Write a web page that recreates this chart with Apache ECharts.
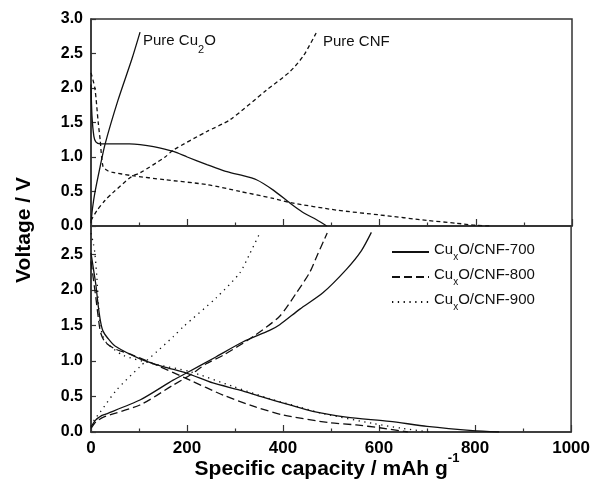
<!DOCTYPE html>
<html><head><meta charset="utf-8">
<script src="https://cdn.jsdelivr.net/npm/echarts@6/dist/echarts.min.js"></script>
<style>html,body{margin:0;padding:0;background:#fff}#c{width:593px;height:482px}</style>
</head><body><div id="c"></div>
<script>
// ---------- Data (capacity mAh/g, voltage V) ----------
// Top panel: Pure Cu2O
const cu2oDisX = [0, 2, 6, 10, 19, 40, 80, 102, 130, 171, 200, 241, 280, 310, 344, 379, 414, 440, 469, 490];
const cu2oDisV = [2.05, 1.6, 1.3, 1.22, 1.19, 1.19, 1.19, 1.18, 1.15, 1.08, 1.0, 0.89, 0.79, 0.74, 0.67, 0.52, 0.33, 0.2, 0.09, 0.0];
const cu2oChgX = [0, 3, 8, 19, 29, 56, 85, 102];
const cu2oChgV = [0.04, 0.25, 0.48, 0.86, 1.18, 1.82, 2.42, 2.81];
// Top panel: Pure CNF
const cnfDisX = [0, 8, 15, 19, 25, 35, 43, 85, 154, 241, 310, 379, 414, 511, 601, 700, 760, 800, 830];
const cnfDisV = [2.22, 2.0, 1.5, 1.25, 0.86, 0.8, 0.78, 0.73, 0.67, 0.6, 0.5, 0.4, 0.34, 0.23, 0.16, 0.08, 0.04, 0.01, 0.0];
const cnfChgX = [0, 12, 29, 45, 85, 102, 154, 171, 241, 289, 365, 414, 442, 469];
const cnfChgV = [0.08, 0.22, 0.37, 0.48, 0.72, 0.77, 1.0, 1.1, 1.37, 1.54, 1.97, 2.24, 2.47, 2.81];
// Bottom panel: CuxO/CNF-700
const c700DisX = [0, 5, 10, 15, 20, 25, 35, 50, 102, 150, 199, 254, 310, 358, 410, 462, 532, 622, 700, 795, 850];
const c700DisV = [2.52, 2.3, 2.08, 1.78, 1.55, 1.42, 1.32, 1.21, 1.03, 0.92, 0.83, 0.69, 0.59, 0.49, 0.39, 0.29, 0.21, 0.15, 0.08, 0.02, 0.0];
const c700ChgX = [0, 10, 22, 26, 102, 171, 199, 261, 317, 372, 393, 435, 483, 532, 563, 584];
const c700ChgV = [0.07, 0.17, 0.23, 0.24, 0.45, 0.73, 0.83, 1.06, 1.27, 1.43, 1.51, 1.73, 1.96, 2.29, 2.55, 2.81];
// Bottom panel: CuxO/CNF-800
const c800DisX = [0, 5, 10, 15, 20, 29, 50, 88, 137, 206, 275, 344, 400, 497, 552, 601, 660];
const c800DisV = [2.4, 2.15, 1.9, 1.62, 1.4, 1.27, 1.17, 1.08, 0.94, 0.73, 0.52, 0.35, 0.24, 0.13, 0.1, 0.06, 0.0];
const c800ChgX = [0, 10, 26, 102, 171, 206, 240, 275, 337, 393, 428, 455, 472, 486, 492];
const c800ChgV = [0.05, 0.14, 0.21, 0.38, 0.66, 0.8, 0.96, 1.08, 1.34, 1.63, 1.96, 2.24, 2.5, 2.71, 2.8];
// Bottom panel: CuxO/CNF-900
const c900DisX = [0, 5, 8, 12, 16, 19, 25, 33, 67, 130, 206, 296, 372, 435, 483, 587, 650, 705];
const c900DisV = [2.8, 2.65, 2.52, 2.2, 1.75, 1.5, 1.35, 1.25, 1.08, 0.96, 0.85, 0.64, 0.47, 0.35, 0.26, 0.12, 0.05, 0.0];
const c900ChgX = [0, 8, 19, 53, 102, 137, 171, 192, 261, 310, 330, 353];
const c900ChgV = [0.08, 0.18, 0.28, 0.59, 0.92, 1.13, 1.34, 1.48, 1.89, 2.24, 2.5, 2.82];

const xTicks = [0, 200, 400, 600, 800, 1000];
const legendNames = ['CuxO/CNF-700', 'CuxO/CNF-800', 'CuxO/CNF-900'];

// ---------- Chart ----------
const zip = (xs, ys) => xs.map((x, i) => [x, ys[i]]);
const FONT = 'Liberation Sans, Arial, sans-serif';
const ink = '#111';

function mk(name, xs, ys, grid, type) {
  return {
    name: name, type: 'line', xAxisIndex: grid, yAxisIndex: grid,
    data: zip(xs, ys), showSymbol: false, symbol: 'none', smooth: 0.25,
    lineStyle: { color: ink, width: 1.3, type: type },
    itemStyle: { color: ink }, animation: false, z: 3
  };
}

const solid = 'solid', shortDash = [4, 3], longDash = [8, 4], dots = [1.3, 4.5];

function xAxisCfg(grid, labels) {
  return {
    type: 'value', gridIndex: grid, min: xTicks[0], max: xTicks[xTicks.length - 1], interval: xTicks[1] - xTicks[0],
    axisLine: { show: true, onZero: false, lineStyle: { color: '#333', width: 1.5 } },
    axisTick: { show: true, inside: true, length: 7, lineStyle: { color: '#333', width: 1.2 } },
    minorTick: { show: true, splitNumber: 2, length: 3.5, lineStyle: { color: '#333', width: 1.2 } },
    splitLine: { show: false }, minorSplitLine: { show: false },
    axisLabel: { show: labels, color: '#000', fontFamily: FONT, fontWeight: 'bold', fontSize: 17, margin: 8,
      formatter: v => String(v) }
  };
}
function yAxisCfg(grid, max) {
  return {
    type: 'value', gridIndex: grid, min: 0, max: max, interval: 0.5,
    axisLine: { show: true, onZero: false, lineStyle: { color: '#333', width: 1.5 } },
    axisTick: { show: true, inside: true, length: 5, lineStyle: { color: '#333', width: 1.2 } },
    splitLine: { show: false },
    axisLabel: {
      color: '#000', fontFamily: FONT, fontWeight: 'bold', fontSize: 16, margin: 8,
      showMaxLabel: max === 3,
      formatter: v => (v > 2.75 && max !== 3) ? '' : v.toFixed(1)
    }
  };
}

const legendRich = {
  m: { fontSize: 15, fontFamily: FONT, color: '#111', verticalAlign: 'bottom', padding: [0, 0, 5, 0] },
  s: { fontSize: 10, fontFamily: FONT, color: '#111', verticalAlign: 'bottom' }
};

const option = {
  backgroundColor: '#fff',
  animation: false,
  grid: [
    { left: 91, top: 19, width: 481, height: 207, show: true, borderColor: '#333', borderWidth: 1.5, backgroundColor: 'transparent' },
    { left: 91, top: 226, width: 481, height: 206, show: true, borderColor: '#333', borderWidth: 1.5, backgroundColor: 'transparent' }
  ],
  xAxis: [xAxisCfg(0, false), xAxisCfg(1, true)],
  yAxis: [yAxisCfg(0, 3), yAxisCfg(1, 2.9)],
  legend: {
    orient: 'vertical', left: 386, top: 237, itemWidth: 37, itemHeight: 14, itemGap: 5,
    data: legendNames,
    itemStyle: { color: 'transparent', borderWidth: 0, opacity: 0 },
    formatter: n => '{m|Cu}{s|x}{m|' + n.slice(3) + '}',
    textStyle: { rich: legendRich }
  },
  graphic: [
    { type: 'text', left: 143, top: 33, style: {
      text: '{m|Pure Cu}{s|2}{m|O}',
      rich: {
        m: { fontSize: 15, fontFamily: FONT, fill: '#111', verticalAlign: 'bottom', padding: [0, 0, 7, 0] },
        s: { fontSize: 11, fontFamily: FONT, fill: '#111', verticalAlign: 'bottom' }
      } } },
    { type: 'text', left: 323, top: 34, style: { text: 'Pure CNF', font: '15px ' + FONT, fill: '#111' } },
    { type: 'text', x: 24, y: 230, rotation: Math.PI / 2, style: {
      text: 'Voltage / V', font: 'bold 21px ' + FONT, fill: '#000', align: 'center', verticalAlign: 'middle' } },
    { type: 'text', x: 327, y: 466, style: {
      text: '{m|Specific capacity / mAh g}{s|-1}', align: 'center', verticalAlign: 'middle',
      rich: {
        m: { fontSize: 21, fontWeight: 'bold', fontFamily: FONT, fill: '#000', verticalAlign: 'bottom', padding: [7, 0, 0, 0] },
        s: { fontSize: 13, fontWeight: 'bold', fontFamily: FONT, fill: '#000', verticalAlign: 'top' }
      } } }
  ],
  series: [
    mk('Pure Cu2O', cu2oDisX, cu2oDisV, 0, solid),
    mk('Pure Cu2O', cu2oChgX, cu2oChgV, 0, solid),
    mk('Pure CNF', cnfDisX, cnfDisV, 0, shortDash),
    mk('Pure CNF', cnfChgX, cnfChgV, 0, shortDash),
    mk(legendNames[0], c700DisX, c700DisV, 1, solid),
    mk(legendNames[0], c700ChgX, c700ChgV, 1, solid),
    mk(legendNames[1], c800DisX, c800DisV, 1, longDash),
    mk(legendNames[1], c800ChgX, c800ChgV, 1, longDash),
    mk(legendNames[2], c900DisX, c900DisV, 1, dots),
    mk(legendNames[2], c900ChgX, c900ChgV, 1, dots)
  ]
};

const chart = echarts.init(document.getElementById('c'), null, { renderer: 'canvas' });
chart.setOption(option);
</script>
</body></html>
